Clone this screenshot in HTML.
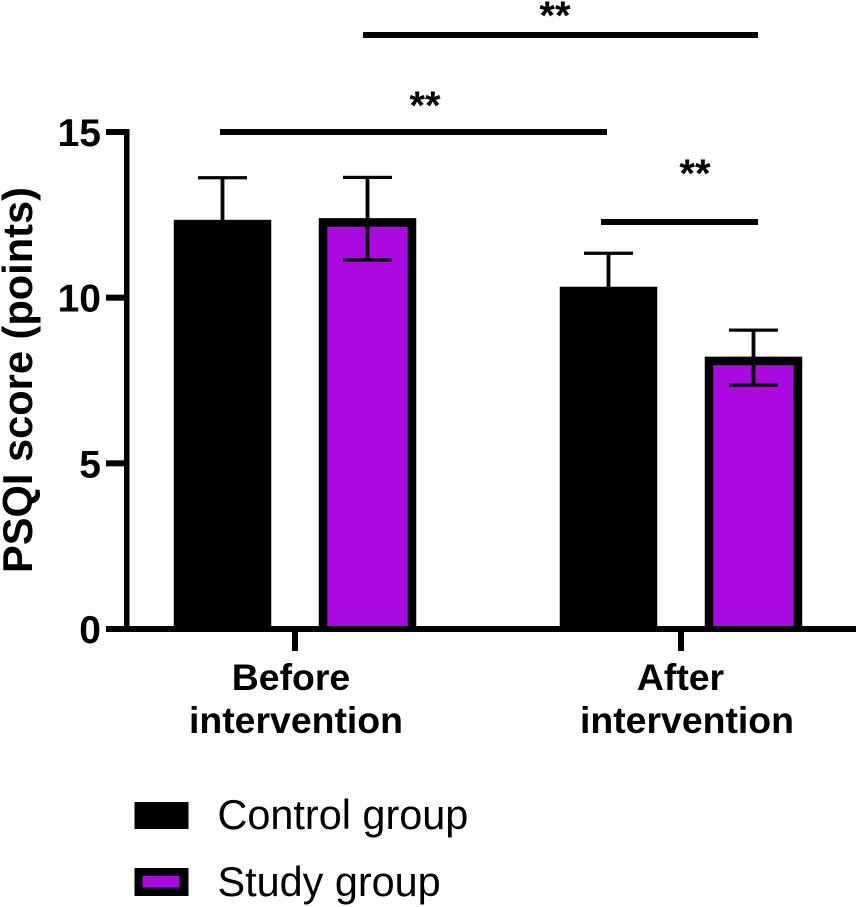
<!DOCTYPE html>
<html lang="en">
<head>
<meta charset="utf-8">
<title>PSQI score chart</title>
<style>
html,body{margin:0;padding:0;background:#fff;}
body{width:856px;height:907px;overflow:hidden;}
svg{display:block;}
text{font-family:"Liberation Sans",sans-serif;fill:#000;}
.b{font-weight:700;}
</style>
</head>
<body>
<svg id="chart" width="856" height="907" viewBox="0 0 856 907" xmlns="http://www.w3.org/2000/svg">
  <text class="b" font-size="41.6" text-anchor="middle" transform="translate(32,380) rotate(-90)">PSQI score (points)</text>
  <g id="marks"></g>
  <g id="axes"></g>
  <g>
    <rect x="363" y="32" width="395" height="6" fill="#000"/>
    <text class="b" font-size="40" text-anchor="middle" x="555" y="29">**</text>
    <rect x="220" y="129" width="387" height="6" fill="#000"/>
    <text class="b" font-size="40" text-anchor="middle" x="425" y="119">**</text>
    <rect x="601" y="219" width="157" height="6" fill="#000"/>
    <text class="b" font-size="40" text-anchor="middle" x="695" y="187">**</text>
  </g>
  <g>
    <text class="b" font-size="37.4" text-anchor="middle" x="291" y="690">Before</text>
    <text class="b" font-size="37.4" text-anchor="middle" x="296" y="733">intervention</text>
    <text class="b" font-size="37.4" text-anchor="middle" x="680.5" y="690">After</text>
    <text class="b" font-size="37.4" text-anchor="middle" x="687" y="733">intervention</text>
  </g>
  <g>
    <rect x="134.5" y="802" width="54" height="27" fill="#000"/>
    <text font-size="41.4" x="217.5" y="829">Control group</text>
    <rect x="134.5" y="868" width="54" height="28" fill="#000"/>
    <rect x="142.5" y="876" width="37" height="11.5" fill="#aa0ae0"/>
    <text font-size="41.4" x="217.5" y="896">Study group</text>
  </g>
</svg>
<script>
var categories = ['before', 'after'];
var controlValues = [12.35, 10.33];
var controlErrHigh = [13.62, 11.34];
var controlErrLow = [11.08, 9.32];
var studyValues = [12.40, 8.22];
var studyErrHigh = [13.63, 9.02];
var studyErrLow = [11.14, 7.36];
var yTicks = [0, 5, 10, 15];

var NS = 'http://www.w3.org/2000/svg';
var marks = document.getElementById('marks');
var axes = document.getElementById('axes');
var Y0 = 629, PX_PER_UNIT = 33.133;
var BAR_W = 97.5, BORDER = 8.5, CAP_W = 49, CAP_T = 3.2, STEM_W = 3.8;
var PURPLE = '#aa0ae0';

function yScale(v) { return Y0 - v * PX_PER_UNIT; }
function groupCenter(i) { return 295 + i * 386; }
function rect(parent, x, y, w, h, fill) {
  var r = document.createElementNS(NS, 'rect');
  r.setAttribute('x', x);
  r.setAttribute('y', y);
  r.setAttribute('width', w);
  r.setAttribute('height', h);
  r.setAttribute('fill', fill);
  parent.appendChild(r);
  return r;
}
function drawError(cx, hi, lo, key) {
  var top = yScale(hi), bottom = yScale(lo);
  var stem = rect(marks, cx - STEM_W / 2, top, STEM_W, bottom - top, '#000');
  
  
  var capHi = rect(marks, cx - CAP_W / 2, top - CAP_T / 2, CAP_W, CAP_T, '#000');
  
  
  var capLo = rect(marks, cx - CAP_W / 2, bottom - CAP_T / 2, CAP_W, CAP_T, '#000');
  
  
}

categories.forEach(function (cat, i) {
  var c = groupCenter(i);
  var cx1 = c - 72.5, cx2 = c + 72.5;

  var yc = yScale(controlValues[i]);
  var barC = rect(marks, cx1 - BAR_W / 2, yc, BAR_W, Y0 - yc, '#000');
  
  
  drawError(cx1, controlErrHigh[i], controlErrLow[i], 'control-' + cat);

  var ys = yScale(studyValues[i]);
  var barS = rect(marks, cx2 - BAR_W / 2, ys, BAR_W, Y0 - ys, '#000');
  
  
  var fillS = rect(marks, cx2 - BAR_W / 2 + BORDER, ys + BORDER, BAR_W - 2 * BORDER, Y0 - ys - BORDER, PURPLE);
  
  
  drawError(cx2, studyErrHigh[i], studyErrLow[i], 'study-' + cat);

  var xt = rect(axes, c - 3, Y0, 6, 22, '#000');
  
  
});

var yLine = rect(axes, 124, yScale(15) - 3, 5.5, Y0 - yScale(15) + 6, '#000');


var xLine = rect(axes, 106, Y0 - 3, 750, 6, '#000');



yTicks.forEach(function (t) {
  var y = yScale(t);
  var tick = rect(axes, 106, y - 3, 20, 6, '#000');
  
  
  var label = document.createElementNS(NS, 'text');
  label.setAttribute('x', 101);
  label.setAttribute('y', y + 14);
  label.setAttribute('font-size', '39');
  label.setAttribute('font-weight', '700');
  label.setAttribute('text-anchor', 'end');
  
  
  label.textContent = String(t);
  axes.appendChild(label);
});
</script>
</body>
</html>
